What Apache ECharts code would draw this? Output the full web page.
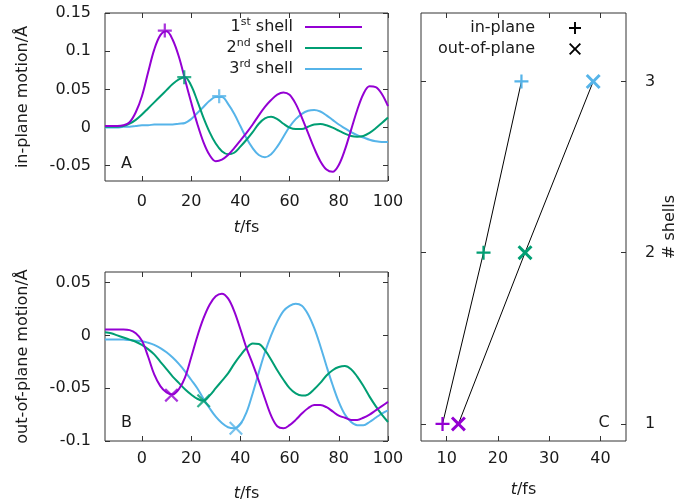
<!DOCTYPE html>
<html>
<head>
<meta charset="utf-8">
<script src="https://cdn.jsdelivr.net/npm/echarts@6/dist/echarts.min.js"></script>
<style>
  html, body { margin: 0; padding: 0; background: #fff; }
  #chart { width: 679px; height: 503px; }
</style>
</head>
<body>
<div id="chart"></div>
<script>
// Time grid (fs) shared by all motion curves
const timeFs = [-15, -12.5, -10, -7.5, -5, -2.5, 0, 2.5, 5, 7.5, 10, 12.5, 15, 17.5, 20, 22.5,
  25, 27.5, 30, 32.5, 35, 37.5, 40, 42.5, 45, 47.5, 50, 52.5, 55, 57.5, 60, 62.5, 65, 67.5,
  70, 72.5, 75, 77.5, 80, 82.5, 85, 87.5, 90, 92.5, 95, 97.5, 100];

// In-plane motion (Å)
const inPlane1 = [0.002, 0.002, 0.002, 0.003, 0.007, 0.02, 0.041, 0.072, 0.102, 0.121, 0.126, 0.115,
  0.093, 0.063, 0.033, 0.005, -0.019, -0.036, -0.044, -0.042, -0.036, -0.027, -0.017, -0.007,
  0.004, 0.016, 0.027, 0.036, 0.043, 0.046, 0.043, 0.031, 0.013, -0.007, -0.027, -0.044, -0.055,
  -0.058, -0.049, -0.029, -0.003, 0.023, 0.044, 0.054, 0.053, 0.044, 0.028];
const inPlane2 = [0.001, 0.001, 0.001, 0.002, 0.005, 0.01, 0.017, 0.025, 0.033, 0.041, 0.049, 0.057,
  0.063, 0.066, 0.055, 0.035, 0.013, -0.006, -0.021, -0.031, -0.035, -0.033, -0.025, -0.016,
  -0.006, 0.005, 0.012, 0.014, 0.011, 0.005, 0, -0.002, -0.002, 0.001, 0.004, 0.0045, 0.003,
  0, -0.004, -0.008, -0.011, -0.012, -0.011, -0.007, -0.001, 0.006, 0.013];
const inPlane3 = [0, 0, 0, 0.001, 0.001, 0.002, 0.003, 0.003, 0.004, 0.004, 0.004, 0.004, 0.005,
  0.006, 0.011, 0.019, 0.027, 0.035, 0.04, 0.04, 0.031, 0.018, 0.002, -0.014, -0.027, -0.036,
  -0.039, -0.035, -0.025, -0.012, 0.001, 0.011, 0.018, 0.022, 0.023, 0.021, 0.016, 0.01, 0.004,
  -0.001, -0.006, -0.01, -0.013, -0.016, -0.018, -0.019, -0.019];

// Out-of-plane motion (Å)
const outPlane1 = [0.0055, 0.0055, 0.0055, 0.0055, 0.005, 0.002, -0.005, -0.02, -0.037, -0.048,
  -0.054, -0.056, -0.051, -0.04, -0.021, -0.001, 0.016, 0.029, 0.037, 0.0395, 0.035, 0.023, 0.006,
  -0.012, -0.027, -0.043, -0.06, -0.076, -0.086, -0.088, -0.085, -0.08, -0.074, -0.069, -0.066,
  -0.066, -0.068, -0.072, -0.076, -0.078, -0.08, -0.08, -0.078, -0.075, -0.071, -0.067, -0.063];
const outPlane2 = [0.003, 0.002, 0, -0.002, -0.004, -0.006, -0.009, -0.013, -0.018, -0.025, -0.032,
  -0.039, -0.045, -0.051, -0.056, -0.06, -0.062, -0.057, -0.05, -0.043, -0.036, -0.027, -0.019,
  -0.012, -0.0078, -0.0082, -0.014, -0.023, -0.033, -0.042, -0.05, -0.055, -0.057, -0.056, -0.051,
  -0.045, -0.038, -0.033, -0.03, -0.029, -0.032, -0.039, -0.048, -0.058, -0.067, -0.075, -0.082];
const outPlane3 = [-0.004, -0.004, -0.004, -0.004, -0.0045, -0.005, -0.0055, -0.007, -0.009, -0.012,
  -0.016, -0.021, -0.027, -0.034, -0.042, -0.05, -0.06, -0.069, -0.077, -0.083, -0.087, -0.088,
  -0.084, -0.073, -0.055, -0.035, -0.016, 0, 0.013, 0.023, 0.028, 0.03, 0.028, 0.02, 0.007,
  -0.01, -0.029, -0.047, -0.063, -0.075, -0.082, -0.085, -0.085, -0.082, -0.078, -0.074, -0.071];

// First extremum of each shell: in-plane maxima and out-of-plane minima
const inPlanePeakTime = [9.3, 17.2, 31.4];
const inPlanePeakValue = [0.127, 0.066, 0.041];
const outPlanePeakTime = [12.0, 25.1, 38.2];
const outPlanePeakValue = [-0.0566, -0.062, -0.088];

// Panel C: arrival time versus shell number
const shellCount = [1, 2, 3];
const inPlaneArrival = [9.2, 17.2, 24.6];
const outPlaneArrival = [12.3, 25.3, 38.6];

const shellNames = ['1st shell', '2nd shell', '3rd shell'];
const shellColors = ['#9400d3', '#009e73', '#56b4e9'];

const FONT = 'DejaVu Sans';
const TXT = '#1a1a1a';
const FRAME = '#333';

const plusPath = 'path://M0,4.2H10V5.8H0Z M4.2,0H5.8V10H4.2Z';
const crossPath = 'path://M1.1,0 L5,3.9 L8.9,0 L10,1.1 L6.1,5 L10,8.9 L8.9,10 L5,6.1 L1.1,10 L0,8.9 L3.9,5 L0,1.1Z';
const crossBold = 'path://M1.4,0 L5,3.6 L8.6,0 L10,1.4 L6.4,5 L10,8.6 L8.6,10 L5,6.4 L1.4,10 L0,8.6 L3.6,5 L0,1.4Z';

const pair = (xs, ys) => xs.map((x, i) => [x, ys[i]]);

const grids = [
  { left: 105, top: 13, width: 283, height: 168 },
  { left: 105, top: 272, width: 283, height: 169 },
  { left: 421, top: 13, width: 207, height: 428 }
].map(g => Object.assign({ show: true, borderColor: FRAME, borderWidth: 1, backgroundColor: 'transparent' }, g));

function baseAxis(extra) {
  return Object.assign({
    type: 'value',
    axisLine: { show: false, onZero: false },
    splitLine: { show: false },
    axisLabel: { show: true, color: TXT, fontFamily: FONT, fontSize: 16 },
    nameTextStyle: { color: TXT, fontFamily: FONT, fontSize: 16 }
  }, extra);
}

function ticksOnly(values) {
  return { show: true, inside: true, length: 5, customValues: values, lineStyle: { color: FRAME, width: 1 } };
}

function labels(values, margin) {
  return { show: true, color: TXT, fontFamily: FONT, fontSize: 16, margin: margin, customValues: values };
}

const tTicks = [0, 20, 40, 60, 80, 100];
const aTicks = [-0.05, 0, 0.05, 0.1, 0.15];
const bTicks = [-0.1, -0.05, 0, 0.05];
const cXTicks = [10, 20, 30, 40];
const cYTicks = [1, 2, 3];

const timeName = {
  name: '{i|t}/fs',
  nameLocation: 'middle',
  nameTextStyle: { color: TXT, fontFamily: FONT, fontSize: 16, rich: { i: { fontStyle: 'italic', fontFamily: FONT, fontSize: 16, color: TXT } } }
};

const xAxes = [
  baseAxis(Object.assign({ gridIndex: 0, position: 'bottom', min: -15, max: 100, nameGap: 39,
    axisTick: ticksOnly(tTicks), axisLabel: labels(tTicks, 13) }, timeName)),
  baseAxis({ gridIndex: 0, position: 'top', min: -15, max: 100, axisTick: ticksOnly(tTicks), axisLabel: { show: false } }),
  baseAxis(Object.assign({ gridIndex: 1, position: 'bottom', min: -15, max: 100, nameGap: 45,
    axisTick: ticksOnly(tTicks), axisLabel: labels(tTicks, 10) }, timeName)),
  baseAxis({ gridIndex: 1, position: 'top', min: -15, max: 100, axisTick: ticksOnly(tTicks), axisLabel: { show: false } }),
  baseAxis(Object.assign({ gridIndex: 2, position: 'bottom', min: 5, max: 45, nameGap: 41,
    axisTick: ticksOnly(cXTicks), axisLabel: labels(cXTicks, 10) }, timeName)),
  baseAxis({ gridIndex: 2, position: 'top', min: 5, max: 45, axisTick: ticksOnly(cXTicks), axisLabel: { show: false } })
];

const yAxes = [
  baseAxis({ gridIndex: 0, position: 'left', min: -0.07, max: 0.15,
    name: 'in-plane motion/Å', nameLocation: 'middle', nameGap: 74, nameRotate: 90,
    axisTick: ticksOnly(aTicks), axisLabel: labels(aTicks, 14) }),
  baseAxis({ gridIndex: 0, position: 'right', min: -0.07, max: 0.15, axisTick: ticksOnly(aTicks), axisLabel: { show: false } }),
  baseAxis({ gridIndex: 1, position: 'left', min: -0.1, max: 0.06,
    name: 'out-of-plane motion/Å', nameLocation: 'middle', nameGap: 74, nameRotate: 90,
    axisTick: ticksOnly(bTicks), axisLabel: labels(bTicks, 14) }),
  baseAxis({ gridIndex: 1, position: 'right', min: -0.1, max: 0.06, axisTick: ticksOnly(bTicks), axisLabel: { show: false } }),
  baseAxis({ gridIndex: 2, position: 'right', min: 0.9, max: 3.4,
    name: '# shells', nameLocation: 'middle', nameGap: 36, nameRotate: 90,
    axisTick: ticksOnly(cYTicks), axisLabel: labels(cYTicks, 19) }),
  baseAxis({ gridIndex: 2, position: 'left', min: 0.9, max: 3.4, axisTick: ticksOnly(cYTicks), axisLabel: { show: false } })
];

const curvesA = [inPlane1, inPlane2, inPlane3];
const curvesB = [outPlane1, outPlane2, outPlane3];

const series = [];
curvesA.forEach((vals, i) => {
  series.push({
    name: shellNames[i], type: 'line', xAxisIndex: 0, yAxisIndex: 0,
    data: pair(timeFs, vals), smooth: 0.35, showSymbol: false, silent: true,
    itemStyle: { color: shellColors[i] },
    lineStyle: { color: shellColors[i], width: 2 }, z: 3 - i
  });
});
series.push({
  name: 'in-plane maxima', type: 'scatter', xAxisIndex: 0, yAxisIndex: 0,
  symbol: plusPath, symbolSize: 14, silent: true, z: 5,
  data: inPlanePeakTime.map((t, i) => ({ value: [t, inPlanePeakValue[i]], itemStyle: { color: shellColors[i] } }))
});
curvesB.forEach((vals, i) => {
  series.push({
    name: shellNames[i] + ' (out-of-plane)', type: 'line', xAxisIndex: 2, yAxisIndex: 2,
    data: pair(timeFs, vals), smooth: 0.35, showSymbol: false, silent: true,
    itemStyle: { color: shellColors[i] },
    lineStyle: { color: shellColors[i], width: 2 }, z: 3 - i
  });
});
series.push({
  name: 'out-of-plane minima', type: 'scatter', xAxisIndex: 2, yAxisIndex: 2,
  symbol: crossPath, symbolSize: 14, silent: true, z: 5,
  data: outPlanePeakTime.map((t, i) => ({ value: [t, outPlanePeakValue[i]], itemStyle: { color: shellColors[i] } }))
});
series.push({
  name: 'in-plane', type: 'line', xAxisIndex: 4, yAxisIndex: 4,
  symbol: plusPath, symbolSize: 14, showSymbol: true, silent: true,
  itemStyle: { color: '#000' }, lineStyle: { color: '#000', width: 1 },
  data: inPlaneArrival.map((t, i) => ({ value: [t, shellCount[i]], itemStyle: { color: shellColors[i] } }))
});
series.push({
  name: 'out-of-plane', type: 'line', xAxisIndex: 4, yAxisIndex: 4,
  symbol: crossBold, symbolSize: 15, showSymbol: true, silent: true,
  itemStyle: { color: '#000' }, lineStyle: { color: '#000', width: 1 },
  data: outPlaneArrival.map((t, i) => ({ value: [t, shellCount[i]], itemStyle: { color: shellColors[i] } }))
});

const option = {
  animation: false,
  backgroundColor: '#fff',
  grid: grids,
  xAxis: xAxes,
  yAxis: yAxes,
  legend: [
    {
      data: shellNames, orient: 'vertical', align: 'right', right: 317, top: 16.5,
      padding: 0, itemGap: 0, itemWidth: 57, itemHeight: 2, icon: 'rect', selectedMode: false,
      formatter: name => name.replace(/^(\d)(st|nd|rd)/, '$1{sup|$2}'),
      textStyle: {
        color: TXT, fontFamily: FONT, fontSize: 16, lineHeight: 21, padding: [0, 7, 0, 0],
        rich: { sup: { fontSize: 11, fontFamily: FONT, color: TXT, verticalAlign: 'top', lineHeight: 21 } }
      }
    },
    {
      data: [{ name: 'in-plane', icon: plusPath }, { name: 'out-of-plane', icon: crossPath }],
      orient: 'vertical', align: 'right', right: 98, top: 17.5,
      padding: 0, itemGap: 0, itemWidth: 12, itemHeight: 12, selectedMode: false,
      textStyle: { color: TXT, fontFamily: FONT, fontSize: 16, lineHeight: 21, padding: [0, 29, 0, 0] }
    }
  ],
  graphic: [
    { type: 'text', x: 126.5, y: 163.5, style: { text: 'A', font: '16px "DejaVu Sans"', fill: TXT, align: 'center', verticalAlign: 'middle' } },
    { type: 'text', x: 126.5, y: 422.5, style: { text: 'B', font: '16px "DejaVu Sans"', fill: TXT, align: 'center', verticalAlign: 'middle' } },
    { type: 'text', x: 604, y: 423, style: { text: 'C', font: '16px "DejaVu Sans"', fill: TXT, align: 'center', verticalAlign: 'middle' } }
  ],
  series: series
};

const chart = echarts.init(document.getElementById('chart'), null, { renderer: 'canvas' });
chart.setOption(option);
</script>
</body>
</html>
